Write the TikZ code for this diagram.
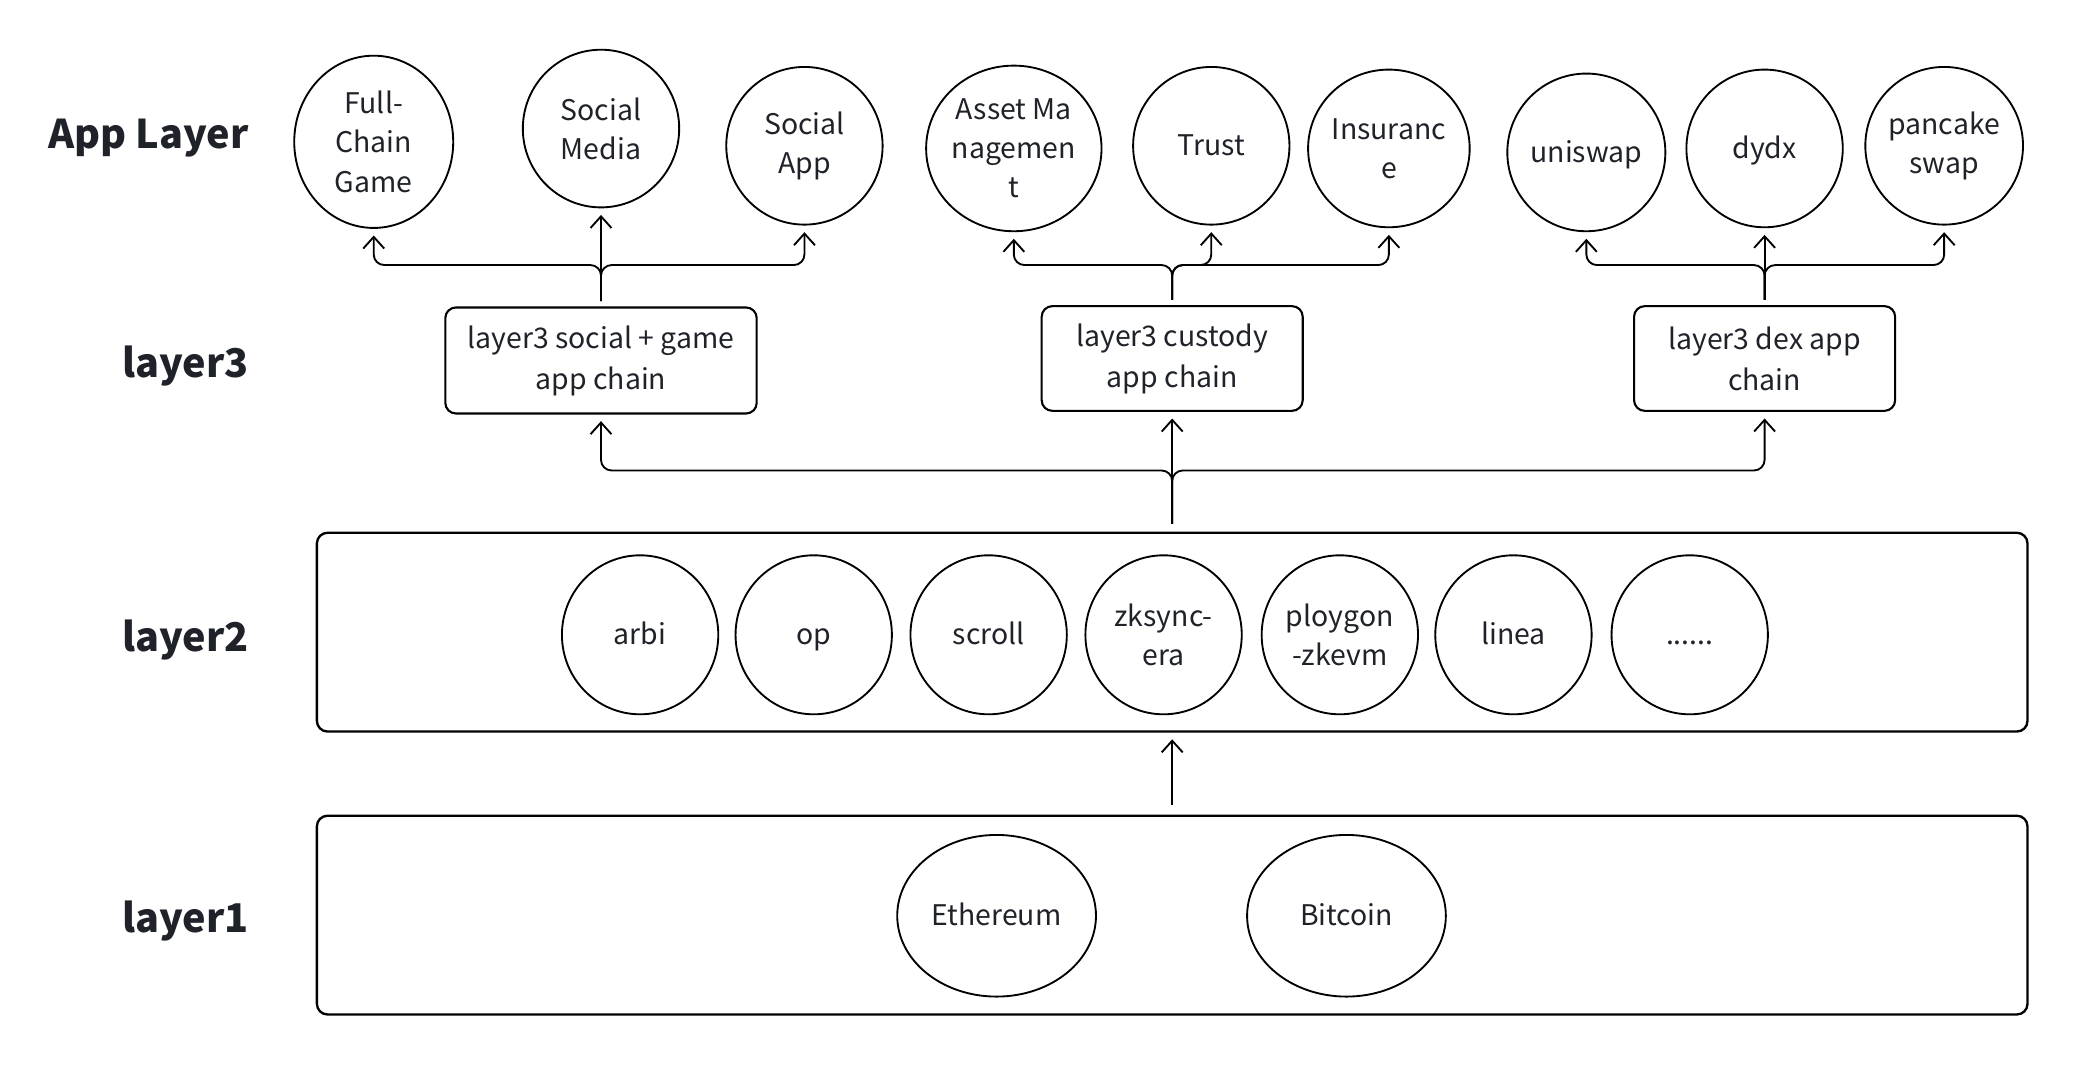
\documentclass[tikz,border=0pt]{standalone}
\usepackage{fontspec}
\setmainfont{Noto Sans CJK SC}
\usetikzlibrary{shapes.geometric,arrows.meta}
\definecolor{inkgray}{HTML}{1F2329}

\tikzset{
	appnode/.style={draw, ellipse, line width=0.8pt, inner sep=0pt, minimum width=2.36cm, minimum height=2.38cm, align=center, text=inkgray, font=\fontsize{12.2}{16.8}\selectfont},
	oneline/.style={text height=11pt, text depth=2.5pt},
	chainbox/.style={draw, rounded corners=0.16cm, line width=0.9pt, minimum width=3.94cm, minimum height=1.58cm, align=center, text=inkgray, font=\fontsize{12.2}{17.6}\selectfont},
	layerframe/.style={draw, rounded corners=0.16cm, line width=1pt, minimum width=25.82cm, minimum height=3.0cm},
	layertitle/.style={anchor=east, inner sep=0pt, text=inkgray, font=\fontsize{17}{20}\selectfont\bfseries},
	link/.style={-{Straight Barb[length=5pt,width=9pt]}, line width=0.8pt, rounded corners=0.16cm, shorten >=0.1cm},
}

\begin{document}
\begin{tikzpicture}[x=0.02cm, y=-0.02cm]

	\useasboundingbox (0,0) rectangle (1568,802.9);

	\node[layertitle] (lblapp) at (188,104) {App Layer};
	\node[layertitle] (lbl3) at (188,276) {layer3};
	\node[layertitle] (lbl2) at (188,483) {layer2};
	\node[layertitle] (lbl1) at (188,695) {layer1};

	\node[appnode, minimum width=2.4cm, minimum height=2.6cm] (fullchain) at (282,107) {Full-\\Chain\\Game};
	\node[appnode] (socialmedia) at (453.5,97) {Social\\Media};
	\node[appnode] (socialapp) at (607,110) {Social\\App};
	\node[appnode, minimum width=2.58cm, minimum height=2.5cm] (asset) at (765,112) {Asset Ma\\nagemen\\t};
	\node[appnode, oneline] (trust) at (914,110) {Trust};
	\node[appnode] (insurance) at (1048,112) {Insuranc\\e};
	\node[appnode, oneline] (uniswap) at (1197,115) {uniswap};
	\node[appnode, oneline] (dydx) at (1331.5,112) {dydx};
	\node[appnode] (pancake) at (1467,110) {pancake\\swap};

	\node[chainbox, minimum width=4.7cm, minimum height=1.6cm] (social3) at (453.5,272) {layer3 social + game\\app chain};
	\node[chainbox] (custody3) at (884.5,270.5) {layer3 custody\\app chain};
	\node[chainbox] (dex3) at (1331.5,270.5) {layer3 dex app\\chain};

	\node[layerframe] (layer2box) at (884.5,477) {};
	\node[appnode, oneline, minimum height=2.4cm] (arbi) at (483,479) {arbi};
	\node[appnode, oneline, minimum height=2.4cm] (op) at (614,479) {op};
	\node[appnode, oneline, minimum height=2.4cm] (scroll) at (746,479) {scroll};
	\node[appnode, minimum height=2.4cm] (zksync) at (878,479) {zksync-\\era};
	\node[appnode, minimum height=2.4cm] (polygon) at (1011,479) {ploygon\\-zkevm};
	\node[appnode, oneline, minimum height=2.4cm] (linea) at (1142,479) {linea};
	\node[appnode, oneline, minimum height=2.4cm] (more) at (1275,479) {......};

	\node[layerframe] (layer1box) at (884.5,690.5) {};
	\node[appnode, oneline, minimum width=3.0cm, minimum height=2.44cm] (eth) at (752,691) {Ethereum};
	\node[appnode, oneline, minimum width=3.0cm, minimum height=2.44cm] (btc) at (1016,691) {Bitcoin};

	\coordinate (up1) at ([yshift=0.14cm]layer1box.north);
	\draw[link] (up1) -- (layer2box.south);

	\coordinate (up2) at ([yshift=0.12cm]layer2box.north);
	\coordinate (fork2) at (884.5,355);
	\draw[link] (up2) -- (fork2) -| (social3.south);
	\draw[link] (up2) -- (custody3.south);
	\draw[link] (up2) -- (fork2) -| (dex3.south);

	\coordinate (upsocial) at ([yshift=0.08cm]social3.north);
	\coordinate (forksocial) at (453.5,200);
	\draw[link] (upsocial) -- (forksocial) -| (fullchain.south);
	\draw[link] (upsocial) -- (socialmedia.south);
	\draw[link] (upsocial) -- (forksocial) -| (socialapp.south);

	\coordinate (upcustody) at ([yshift=0.08cm]custody3.north);
	\coordinate (forkcustody) at (884.5,200);
	\draw[link] (upcustody) -- (forkcustody) -| (asset.south);
	\draw[link] (upcustody) -- (forkcustody) -| (trust.south);
	\draw[link] (upcustody) -- (forkcustody) -| (insurance.south);

	\coordinate (updex) at ([yshift=0.08cm]dex3.north);
	\coordinate (forkdex) at (1331.5,200);
	\draw[link] (updex) -- (forkdex) -| (uniswap.south);
	\draw[link] (updex) -- (dydx.south);
	\draw[link] (updex) -- (forkdex) -| (pancake.south);

\end{tikzpicture}
\end{document}
